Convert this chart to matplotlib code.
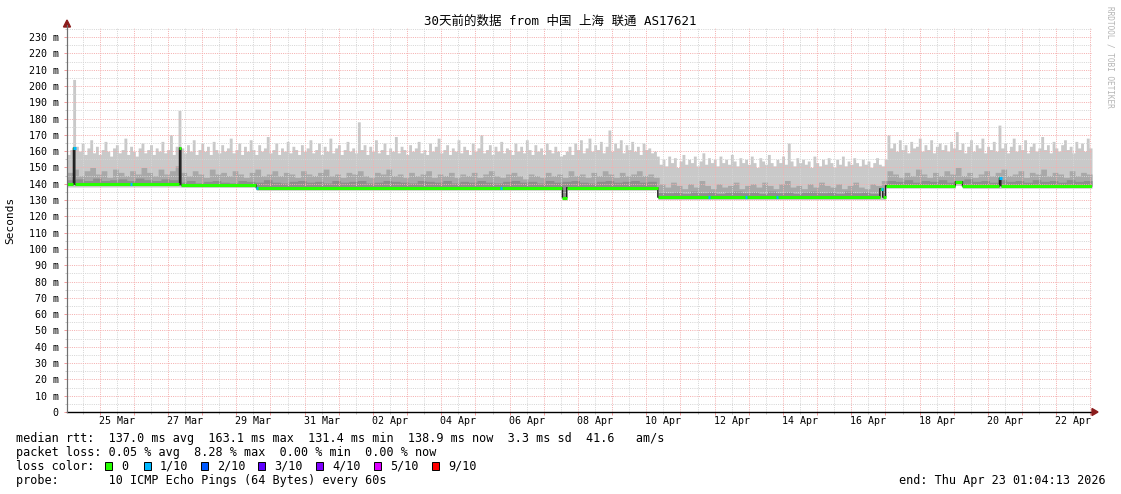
import numpy as np
import matplotlib
matplotlib.use("Agg")
import matplotlib.pyplot as plt
import matplotlib.dates as mdates
from matplotlib.patches import Rectangle, Polygon
from datetime import datetime, timedelta

W, H = 1121, 494
t_end = datetime(2026, 4, 23, 1, 4, 13)
t_start = t_end - timedelta(days=30)

# ---------------- data (ms) ----------------
# highest ping per 2-hour step (light smoke top)
smoke_max_2h = [
    158, 161, 204, 163, 160, 165, 158, 162, 167, 159,
    163, 158, 161, 166, 160, 157, 162, 164, 159, 161,
    168, 158, 163, 160, 157, 162, 165, 159, 161, 164,
    158, 162, 160, 166, 159, 161, 170, 158, 163, 185,
    162, 159, 164, 160, 167, 158, 161, 165, 160, 163,
    158, 166, 161, 159, 164, 160, 162, 168, 159, 161,
    165, 158, 163, 160, 167, 161, 158, 164, 160, 162,
    169, 159, 161, 165, 158, 162, 160, 166, 159, 163,
    161, 158, 164, 160, 162, 167, 159, 161, 165, 158,
    163, 160, 168, 159, 162, 164, 158, 161, 166, 160,
    162, 159, 178, 161, 164, 158, 163, 160, 167, 159,
    161, 165, 158, 162, 160, 169, 159, 163, 161, 158,
    164, 160, 162, 166, 159, 161, 158, 165, 160, 163,
    168, 159, 161, 164, 158, 162, 160, 167, 159, 163,
    161, 158, 165, 160, 162, 170, 159, 161, 164, 158,
    163, 160, 166, 159, 162, 161, 158, 165, 160, 163,
    159, 167, 161, 158, 164, 160, 162, 158, 165, 161,
    159, 163, 160, 157, 158,
    160, 163, 158, 165, 161, 167, 159, 162, 168, 160,
    164, 161, 166, 159, 163, 173, 160, 165, 162, 167,
    159, 164, 161, 166, 160, 163, 158, 165, 161, 162,
    159, 160, 157,
    152, 155, 151, 157, 153, 156, 150, 154, 158, 152,
    155, 153, 157, 151, 154, 159, 152, 156, 153, 155,
    151, 157, 153, 155, 152, 158, 154, 151, 156, 153,
    155, 152, 157, 153, 150, 156, 154, 152, 158, 153,
    151, 155, 153, 157, 152, 165, 154, 151, 156, 153,
    155, 152, 154, 150, 157, 153, 151, 155, 152, 156,
    153, 150, 155, 152, 157, 151, 154, 152, 156, 153,
    151, 155, 152, 154, 150, 153, 156, 152, 151, 155,
    170, 162, 165, 160, 167, 161, 164, 159, 166, 162,
    163, 168, 160, 164, 161, 167, 159, 163, 165, 161,
    164, 160, 166, 162, 172, 161, 165, 159, 163, 167,
    160, 164, 162, 168, 159, 163, 161, 166, 160, 176,
    162, 165, 159, 163, 168, 160, 164, 161, 167, 159,
    163, 165, 160, 162, 169, 161, 164, 159, 166, 162,
    160, 164, 167, 161, 163, 159, 166, 162, 165, 160, 168, 162,
]
# upper-middle pings per 4-hour step (medium smoke top)
smoke_mid_4h = [
    147, 149, 145, 148, 150, 146, 148, 144, 149, 147,
    145, 148, 146, 150, 147, 145, 149, 146, 148, 151,
    147, 145, 148, 146, 144, 149, 146, 147, 145, 148,
    146, 144, 147, 149, 145, 146, 148, 145, 147, 146,
    144, 148, 146, 145, 147, 149, 145, 146, 144, 147,
    146, 148, 145, 144, 147, 146, 149, 145, 146, 144,
    147, 145, 146, 148, 144, 146, 145, 147, 144, 146,
    145, 147, 144, 146, 148, 145, 144, 146, 147, 145,
    143, 146, 145, 144, 147, 145, 146, 144, 148, 145,
    146, 144, 147, 145, 148, 146, 144, 147, 145, 146,
    148, 145, 146, 144,
    140, 138, 141, 139, 137, 140, 138, 142, 139, 137,
    140, 138, 139, 141, 137, 139, 140, 138, 141, 139,
    137, 140, 142, 138, 139, 137, 140, 138, 141, 139,
    138, 140, 137, 139, 141, 138, 137, 140, 139, 142,
    148, 146, 144, 147, 145, 149, 146, 144, 147, 145,
    148, 146, 150, 145, 147, 144, 146, 148, 145, 147,
    149, 145, 146, 148, 144, 147, 146, 149, 145, 147,
    146, 144, 148, 145, 147, 146,
]
# pings just above the median per 6-hour step (dark smoke top)
smoke_dark_6h = [
    142.5, 143, 142, 143.5, 142, 142.5, 143, 142, 143.5, 142.5,
    142, 143, 142.5, 141, 142, 140.5, 141.5, 142, 141, 140.5,
    142, 141.5, 141, 142.5, 141, 140.5, 141.5, 142, 141, 141.5,
    140.5, 142, 141, 141.5, 142, 140.5, 141, 142, 141.5, 141,
    140.5, 142, 141.5, 141, 142, 140.5, 141.5, 141, 142, 141,
    140.5, 141.5, 142, 141, 141.5, 140.5, 142, 141, 141.5, 142,
    141, 140.5, 141.5, 142, 141, 141.5, 142, 141, 141.5, 135,
    134.5, 135, 134, 135.5, 134.5, 135, 134, 135, 135.5, 134.5,
    135, 134, 135.5, 134.5, 135, 134, 135, 135.5, 134.5, 135,
    134, 135.5, 134.5, 135, 134, 135,
    142, 141.5, 142.5, 141,
    142, 141.5, 142.5, 141, 142, 143, 141.5, 142, 141, 142.5,
    141.5, 142, 141, 142.5, 141.5, 142, 141, 142.5, 141.5, 142,
]
# median rtt, piecewise (hours since start)
median_start_h = [0, 4.5, 5.5, 79, 80, 133, 348, 351, 415, 571, 573, 575, 624, 629, 655, 656]
median_ms = [139.8, 162.0, 139.6, 162.0, 139.3, 137.5, 131.5, 137.6, 131.8, 137.0,
             131.8, 138.8, 141.3, 138.6, 143.5, 138.8]
smoke_min_ms = [138.0, 138.0, 138.0, 138.0, 137.8, 136.0, 130.0, 136.0, 130.3, 130.3,
                130.3, 137.3, 139.0, 137.2, 137.2, 137.3]
# hours with packet loss (level in tenths)
loss_start_h = [4.5, 44, 133, 304, 450, 476, 498, 572, 655]
loss_level = [1, 1, 1, 1, 1, 1, 1, 1, 1]

loss_names = ["0", "1/10", "2/10", "3/10", "4/10", "5/10", "9/10"]
loss_tenths = [0, 1, 2, 3, 4, 5, 9]
loss_colors = ["#26ff00", "#00b8ff", "#0059ff", "#5e00ff", "#7e00ff", "#dd00ff", "#ff0000"]

x_labels = ["25 Mar", "27 Mar", "29 Mar", "31 Mar", "02 Apr", "04 Apr", "06 Apr",
            "08 Apr", "10 Apr", "12 Apr", "14 Apr", "16 Apr", "18 Apr", "20 Apr", "22 Apr"]
y_tick_values = list(range(0, 231, 10))

title = "30天前的数据 from 中国 上海 联通 AS17621"
stats_lines = [
    "median rtt:  137.0 ms avg  163.1 ms max  131.4 ms min  138.9 ms now  3.3 ms sd  41.6   am/s",
    "packet loss: 0.05 % avg  8.28 % max  0.00 % min  0.00 % now",
    "loss color:",
    "probe:       10 ICMP Echo Pings (64 Bytes) every 60s",
]
end_text = "end: Thu Apr 23 01:04:13 2026"

# ---------------- figure ----------------
MONO = ["DejaVu Sans Mono", "Noto Sans CJK SC"]
plt.rcParams["font.family"] = MONO

fig = plt.figure(figsize=(W / 100, H / 100), dpi=100, facecolor="white")
ax_l, ax_r, ax_b, ax_t = 67, 1092, 412, 27.3
ax = fig.add_axes([ax_l / W, 1 - ax_b / H, (ax_r - ax_l) / W, (ax_b - ax_t) / H])
ax.set_facecolor("white")

x0 = mdates.date2num(t_start)
h = np.arange(0, 720.25, 0.25)
xd = x0 + h / 24.0

mx = np.array(smoke_max_2h, float)[np.minimum((h // 2).astype(int), len(smoke_max_2h) - 1)]
md = np.array(smoke_mid_4h, float)[np.minimum((h // 4).astype(int), len(smoke_mid_4h) - 1)]
dk = np.array(smoke_dark_6h, float)[np.minimum((h // 6).astype(int), len(smoke_dark_6h) - 1)]
seg = np.searchsorted(median_start_h, h, side="right") - 1
med = np.array(median_ms)[seg]
mn = np.array(smoke_min_ms)[seg]

ax.fill_between(xd, mn, np.maximum(mx, med), step="post", color="#c9c9c9", lw=0, zorder=1)
ax.fill_between(xd, med, np.maximum(md, med), step="post", color="#a8a8a8", lw=0, zorder=1.1)
ax.fill_between(xd, med - 0.6, np.maximum(dk, med), step="post", color="#8e8e8e", lw=0, zorder=1.2)

# median line
ax.step(xd, med, where="post", color="#202020", lw=1.0, zorder=3)
seg_ends = median_start_h[1:] + [720]
for s, e, v in zip(median_start_h, seg_ends, median_ms):
    ax.hlines(v, x0 + s / 24, x0 + e / 24, color=loss_colors[0], lw=2.2, zorder=4)
for s, lv in zip(loss_start_h, loss_level):
    v = median_ms[np.searchsorted(median_start_h, s, side="right") - 1]
    ax.hlines(v, x0 + s / 24, x0 + (s + 1.5) / 24, color=loss_colors[loss_tenths.index(lv)],
              lw=2.2, zorder=5)

ax.set_xlim(x0, x0 + 30)
ax.set_ylim(0, 236)

# grid
ax.xaxis.set_major_locator(mdates.DayLocator())
ax.xaxis.set_minor_locator(mdates.HourLocator(byhour=[12]))
ax.xaxis.set_major_formatter(plt.NullFormatter())
ax.set_yticks(y_tick_values)
ax.set_yticks(list(range(5, 236, 10)), minor=True)
ax.set_yticklabels([("%d m" % v) if v else "0" for v in y_tick_values], fontsize=7.2)
ax.grid(which="major", color="#f5b0b0", lw=0.72, linestyle=(0, (1, 1.2)))
ax.grid(which="minor", color="#d6d6d6", lw=0.72, linestyle=(0, (1, 1.2)))
ax.set_axisbelow(False)
ax.tick_params(which="major", length=2.5, width=0.7, color="#f29a9a", pad=3.5)
ax.tick_params(which="minor", length=1.5, width=0.7, color="#c4c4c4")

for sp in ("top", "right"):
    ax.spines[sp].set_visible(False)
ax.spines["left"].set_color("#707070")
ax.spines["left"].set_linewidth(0.8)
ax.spines["bottom"].set_color("black")
ax.spines["bottom"].set_linewidth(1.0)
ax.spines["bottom"].set_zorder(6)

for lab in x_labels:
    d = datetime.strptime(lab + " 2026 12:00", "%d %b %Y %H:%M")
    ax.annotate(lab, xy=(mdates.date2num(d), 0), xycoords=("data", "axes fraction"),
                xytext=(0, -6.6), textcoords="offset points", ha="center", va="center",
                fontsize=7.2, annotation_clip=False)


def px(x, y):
    return (x / W, 1 - y / H)


# axis arrows
fig.add_artist(Polygon([px(63.5, 27), px(70.5, 27), px(67, 20)], closed=True,
                       transform=fig.transFigure, color="#8b1c1c"))
fig.add_artist(Polygon([px(1092, 408.5), px(1092, 415.5), px(1098, 412)], closed=True,
                       transform=fig.transFigure, color="#8b1c1c"))
fig.add_artist(plt.Line2D([px(67, 0)[0], px(67, 0)[0]], [px(0, 412)[1], px(0, 25)[1]],
                          transform=fig.transFigure, color="#707070", lw=0.8))

fig.text(*px(560, 21), title, ha="center", va="center", fontsize=9, family=MONO)
fig.text(*px(10, 220), "Seconds", rotation=90, ha="center", va="center", fontsize=8)
fig.text(*px(1110, 6), "RRDTOOL / TOBI OETIKER", rotation=270, ha="center", va="top",
         fontsize=5.6, color="#b4b4b4")

rows_y = [438, 452, 466, 480]
for s, y in zip(stats_lines, rows_y):
    fig.text(*px(16, y), s, ha="left", va="center", fontsize=8.5)
fig.text(*px(1106, rows_y[3]), end_text, ha="right", va="center", fontsize=8.5)

box_x = [105, 144, 201, 258, 316, 374, 432]
for bx, c, name in zip(box_x, loss_colors, loss_names):
    fig.add_artist(Rectangle(px(bx, rows_y[2] + 4), 7 / W, 8 / H, transform=fig.transFigure,
                             facecolor=c, edgecolor="black", lw=0.7))
    fig.text(*px(bx + 16, rows_y[2]), name, ha="left", va="center", fontsize=8.5)

fig.savefig("out.png", dpi=100, facecolor="white")
